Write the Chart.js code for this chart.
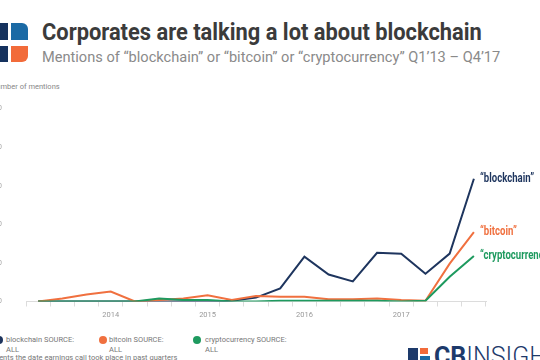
<!DOCTYPE html>
<html>
<head>
<meta charset="utf-8">
<script src="https://cdn.jsdelivr.net/npm/chart.js@4.4.1/dist/chart.umd.min.js"></script>
<style>
  body { margin: 0; width: 540px; height: 360px; overflow: hidden; position: relative; background: #fff; font-family: Roboto, sans-serif; }
  .abs { position: absolute; }
  .fit { white-space: nowrap; display: inline-block; transform-origin: 0 0; }
  #title { left: 42px; top: 21px; font-size: 23px; line-height: 23px; font-weight: 700; color: #3b3b3b; }
  #subtitle { left: 42px; top: 51px; font-size: 14.5px; line-height: 14.5px; color: #8a8a8a; }
  #ytitle { left: -9px; top: 83px; font-size: 7.5px; line-height: 8px; color: #888; white-space: nowrap; }
  #wrap { left: -40px; top: 80px; width: 580px; height: 250px; }
  .dot { width: 8px; height: 8px; border-radius: 50%; }
  .leg { font-size: 7.5px; line-height: 10px; color: #777; white-space: nowrap; }
  #note { left: -24px; top: 353px; font-size: 7.5px; line-height: 10px; color: #777; white-space: nowrap; }
  #brand { left: 434px; top: 344px; font-size: 25px; line-height: 25px; color: #1d3a6b; white-space: nowrap; }
</style>
</head>
<body>
<!-- logo blocks -->
<div class="abs" style="left:0;top:23px;width:8px;height:17px;background:#15325e"></div>
<div class="abs" style="left:11px;top:23px;width:17px;height:17px;background:#1b6aa5;border-top-right-radius:6px"></div>
<div class="abs" style="left:0;top:46px;width:8px;height:16px;background:#15325e"></div>
<div class="abs" style="left:11px;top:46px;width:17px;height:16px;background:#f26b3a;border-bottom-right-radius:6px"></div>

<div id="title" class="abs fit">Corporates are talking a lot about blockchain</div>
<div id="subtitle" class="abs fit">Mentions of “blockchain” or “bitcoin” or “cryptocurrency” Q1’13 – Q4’17</div>
<div id="ytitle" class="abs">Number of mentions</div>

<div id="wrap" class="abs"><canvas id="chart"></canvas></div>

<!-- legend -->
<div class="abs dot" style="left:-5px;top:336px;background:#1e355e"></div>
<div class="abs leg" style="left:6px;top:335px">blockchain SOURCE:<br>ALL</div>
<div class="abs dot" style="left:99px;top:336px;background:#f0703f"></div>
<div class="abs leg" style="left:109px;top:335px">bitcoin SOURCE:<br>ALL</div>
<div class="abs dot" style="left:193px;top:336px;background:#1e9a5f"></div>
<div class="abs leg" style="left:205px;top:335px">cryptocurrency SOURCE:<br>ALL</div>
<div id="note" class="abs">Represents the date earnings call took place in past quarters</div>

<!-- CB Insights mark -->
<div class="abs" style="left:408px;top:348px;width:10px;height:14px;background:#1d3a6b"></div>
<div class="abs" style="left:420px;top:348px;width:8px;height:6px;background:#f26b3a"></div>
<div class="abs" style="left:420px;top:356px;width:10px;height:6px;background:#1b6aa5"></div>
<div id="brand" class="abs"><b>CB</b><span style="font-weight:300">INSIGHTS</span></div>

<script>
const quarters = ["Q2'13", "Q3'13", "Q4'13",
  "Q1'14", "Q2'14", "Q3'14", "Q4'14",
  "Q1'15", "Q2'15", "Q3'15", "Q4'15",
  "Q1'16", "Q2'16", "Q3'16", "Q4'16",
  "Q1'17", "Q2'17", "Q3'17", "Q4'17"];
const blockchain = [0, 0, 0, 0, 0, 0, 0, 0, 1, 5, 17, 58, 35, 26, 63, 62, 36, 62, 159];
const bitcoin = [0, 4, 9, 13, 0, 2, 4, 8, 2, 7, 6, 6, 3, 3, 4, 2, 1, 49, 90];
const cryptocurrency = [0, 0, 0, 0, 0, 4, 2, 2, 0, 0, 1, 1, 1, 1, 1, 0, 1, 32, 59];
const endNames = ['“blockchain”', '“bitcoin”', '“cryptocurrency”'];
const yTicks = [0, 50, 100, 150, 200, 250];

function fitText(id, width) {
  const el = document.getElementById(id);
  el.style.transform = 'scaleX(' + (width / el.offsetWidth) + ')';
}
fitText('title', 440);
fitText('subtitle', 458);

const endLabels = {
  id: 'endLabels',
  afterDatasetsDraw(chart) {
    const ctx = chart.ctx;
    chart.data.datasets.forEach((ds, i) => {
      const pts = chart.getDatasetMeta(i).data;
      const pt = pts[pts.length - 1];
      ctx.save();
      ctx.font = 'bold 12px Roboto';
      ctx.fillStyle = ds.borderColor;
      ctx.textBaseline = 'middle';
      ctx.translate(pt.x + 6, pt.y);
      ctx.scale(0.8, 1);
      ctx.fillText(endNames[i], 0, 0);
      ctx.restore();
    });
  }
};

new Chart(document.getElementById('chart'), {
  type: 'line',
  data: {
    labels: quarters,
    datasets: [
      { label: 'blockchain', data: blockchain, borderColor: '#1e355e', order: 2 },
      { label: 'bitcoin', data: bitcoin, borderColor: '#f0703f', order: 1 },
      { label: 'cryptocurrency', data: cryptocurrency, borderColor: '#1e9a5f', order: 0 }
    ]
  },
  options: {
    responsive: true,
    maintainAspectRatio: false,
    animation: false,
    layout: { padding: { top: 28, right: 54, left: 0, bottom: 0 } },
    elements: {
      line: { borderWidth: 2, tension: 0 },
      point: { radius: 0 }
    },
    plugins: {
      legend: { display: false },
      tooltip: { enabled: false }
    },
    scales: {
      x: {
        offset: true,
        grid: { offset: true, drawOnChartArea: false, tickLength: 5, color: '#dcdcdc' },
        border: { color: '#dcdcdc' },
        ticks: {
          autoSkip: false,
          maxRotation: 0,
          padding: 4,
          color: '#999',
          font: { family: 'Roboto', size: 7.5 },
          callback: function(value) {
            const q = quarters[value];
            return q.startsWith('Q1') ? '20' + q.slice(3) : '';
          }
        },
        afterFit: function(scale) { scale.height = 27; }
      },
      y: {
        min: yTicks[0],
        max: yTicks[yTicks.length - 1],
        grid: { display: false, drawTicks: false },
        border: { display: false },
        ticks: {
          stepSize: 50,
          padding: 24,
          color: '#aaa',
          font: { family: 'Roboto', size: 7.5 }
        },
        afterFit: function(scale) { scale.width = 66; }
      }
    }
  },
  plugins: [endLabels]
});
</script>
</body>
</html>
